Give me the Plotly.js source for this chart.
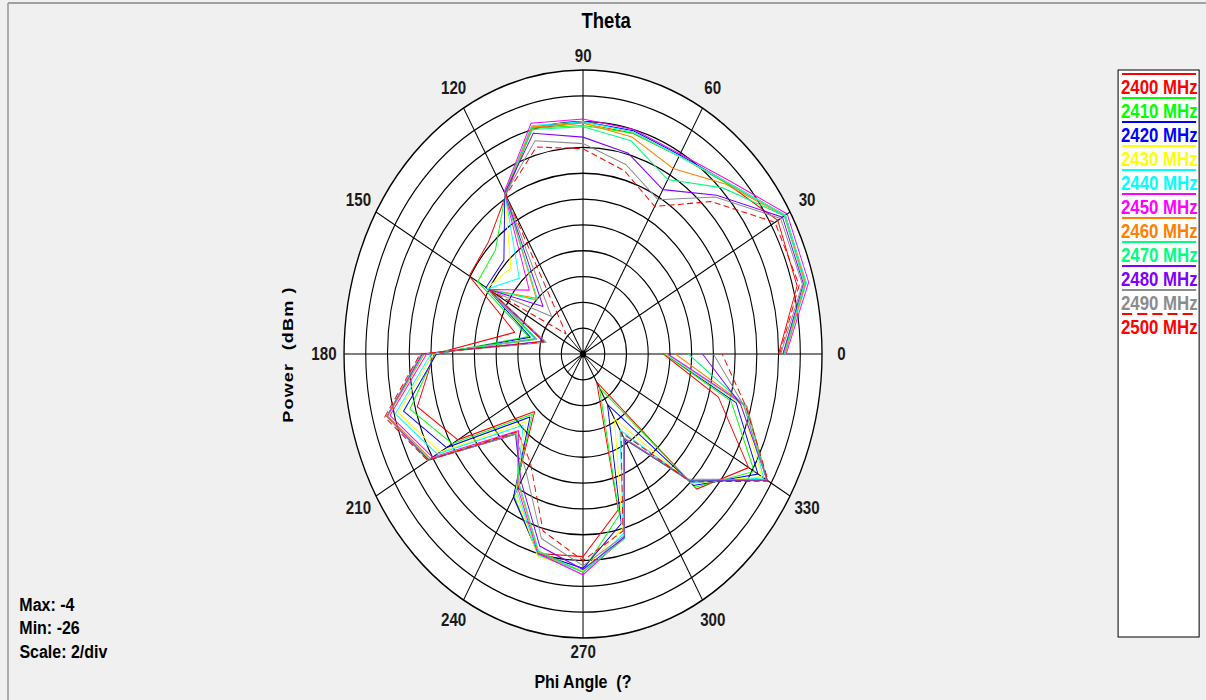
<!DOCTYPE html>
<html>
<head>
<meta charset="utf-8">
<script src="https://cdn.plot.ly/plotly-3.0.1.min.js"></script>
<style>
  html, body { margin: 0; padding: 0; background: #f0f0f0; overflow: hidden; }
  #wrap { width: 1206px; height: 700px; overflow: hidden; }
  /* the pattern window is stretched vertically: draw wide, then squeeze horizontally */
  #chart { width: 1433px; height: 700px; transform: scaleX(0.84155); transform-origin: 0 0; }
</style>
</head>
<body>
<div id="wrap"><div id="chart"></div></div>
<script>
// Phi angles of the turntable sweep (degrees), 0 .. 360 in 15 degree steps
const phi = [0, 15, 30, 45, 60, 75, 90, 105, 120, 135, 150, 165, 180,
             195, 210, 225, 240, 255, 270, 285, 300, 315, 330, 345, 360];

// Measured power (dBm) per frequency
const p2400 = [-8.0, -5.6, -5.3, -7.3, -8.3, -8.3, -8.1, -7.9, -11.8, -13.7, -13.9, -19.5, -12.3,
               -10.2, -12.7, -19.7, -13.2, -10.0, -10.3, -13.5, -23.5, -11.2, -8.4, -13.1, -18.6];
const p2410 = [-7.6, -4.8, -4.5, -7.3, -8.3, -8.3, -8.3, -7.9, -11.7, -14.6, -14.8, -20.8, -12.4,
               -9.5, -12.1, -19.4, -13.3, -9.9, -9.2, -13.1, -23.0, -11.4, -7.8, -11.9, -18.5];
const p2420 = [-7.5, -4.8, -4.5, -7.2, -8.2, -8.1, -8.0, -7.8, -11.6, -15.7, -15.7, -21.0, -12.5,
               -8.9, -11.5, -19.1, -13.2, -10.0, -9.4, -12.4, -21.5, -11.6, -7.4, -11.4, -18.4];
const p2430 = [-7.5, -4.8, -4.5, -7.2, -8.3, -8.2, -8.1, -7.8, -11.6, -16.6, -15.8, -21.3, -12.2,
               -8.4, -10.8, -18.6, -13.6, -9.8, -9.2, -12.0, -20.2, -11.8, -7.0, -10.9, -18.4];
const p2440 = [-7.4, -4.7, -4.5, -7.2, -8.3, -8.2, -8.0, -7.7, -11.6, -17.7, -15.9, -21.4, -12.0,
               -8.1, -10.5, -18.2, -13.8, -9.9, -9.1, -11.6, -19.2, -11.9, -6.8, -10.6, -18.3];
const p2450 = [-7.3, -4.5, -4.3, -7.0, -8.1, -8.0, -7.8, -7.5, -11.5, -19.0, -16.0, -21.5, -11.6,
               -7.6, -10.0, -17.6, -14.0, -10.0, -8.9, -11.3, -18.5, -12.0, -6.5, -10.4, -18.2];
const p2460 = [-7.4, -4.8, -4.6, -7.4, -9.4, -8.6, -8.1, -7.8, -11.6, -19.9, -16.0, -21.6, -11.4,
               -7.4, -9.8, -17.4, -14.2, -10.1, -9.1, -11.2, -18.4, -12.1, -6.4, -10.4, -17.5];
const p2470 = [-7.5, -4.9, -4.6, -7.8, -10.4, -8.9, -8.4, -8.0, -11.6, -20.1, -16.0, -21.6, -11.3,
               -7.3, -9.7, -17.3, -14.3, -10.2, -9.1, -11.2, -18.4, -12.1, -6.4, -10.5, -16.3];
const p2480 = [-7.6, -5.0, -4.8, -8.6, -11.3, -9.9, -9.2, -8.3, -11.6, -20.8, -16.0, -22.2, -11.2,
               -7.3, -9.6, -17.2, -14.6, -10.6, -9.3, -11.3, -18.4, -12.2, -6.4, -11.0, -15.0];
const p2490 = [-7.8, -5.1, -5.0, -8.8, -12.2, -10.8, -9.7, -8.9, -11.7, -21.9, -16.1, -22.5, -11.1,
               -7.3, -9.5, -17.2, -15.5, -11.2, -9.6, -11.4, -18.5, -12.3, -6.5, -10.7, -14.0];
const p2500 = [-7.9, -5.4, -5.6, -9.3, -12.8, -11.3, -10.1, -9.4, -11.8, -23.8, -16.0, -22.3, -11.0,
               -7.1, -9.5, -17.5, -16.3, -11.8, -10.0, -11.8, -19.0, -12.0, -6.3, -10.5, -13.2];

const seriesNames = ['2400 MHz', '2410 MHz', '2420 MHz', '2430 MHz', '2440 MHz', '2450 MHz',
                     '2460 MHz', '2470 MHz', '2480 MHz', '2490 MHz', '2500 MHz'];
const seriesValues = [p2400, p2410, p2420, p2430, p2440, p2450, p2460, p2470, p2480, p2490, p2500];

// Angular tick labels
const angleTicks = [0, 30, 60, 90, 120, 150, 180, 210, 240, 270, 300, 330];
const angleLabels = ['0', '30', '60', '90', '120', '150', '180', '210', '240', '270', '300', '330'];

// Radial scale
const rMax = -4, rMin = -26, rStep = 2;

const colors = ['#ff0000', '#00ff00', '#0000ff', '#ffff00', '#00ffff', '#ff00ff',
                '#ff8000', '#00ff80', '#8000ff', '#8c8c8c', '#ff0000'];
const dashes = ['solid', 'solid', 'solid', 'solid', 'solid', 'solid',
                'solid', 'solid', 'solid', 'solid', '7px,4px'];

const FONT = 'Liberation Sans, Arial, Helvetica, sans-serif';
const W = 1433, H = 700;
// polar disc geometry in layout pixels (before the horizontal squeeze)
const CX = 692.8, CY = 354, R = 284;

function txt(text, xpx, ypx, size, color, extra) {
  return Object.assign({
    text: text, x: xpx / W, y: 1 - ypx / H, xref: 'paper', yref: 'paper',
    xanchor: 'center', yanchor: 'middle', showarrow: false,
    font: { family: FONT, size: size, weight: 'bold', color: color || '#000' }
  }, extra || {});
}

const traces = [];

// short spokes inside the first ring
const innerTheta = [], innerR = [];
[45, 135, 225, 315].forEach(a => { innerTheta.push(a, a, null); innerR.push(rMin, rMin + rStep, null); });
traces.push({ type: 'scatterpolar', mode: 'lines', r: innerR, theta: innerTheta,
  line: { color: 'black', width: 1 }, hoverinfo: 'skip' });

seriesValues.forEach((vals, i) => traces.push({
  type: 'scatterpolar',
  mode: 'lines',
  r: vals,
  theta: phi,
  name: seriesNames[i],
  line: { color: colors[i], width: 1.1, dash: dashes[i] },
  hoverinfo: 'skip'
}));

// pole marker
traces.push({
  type: 'scatterpolar', mode: 'markers', r: [rMin], theta: [0],
  marker: { color: 'black', size: 7 }, hoverinfo: 'skip'
});

const annotations = [
  txt('Theta', 720, 20, 22),
  txt('Power&nbsp;&nbsp;(dBm )', 342, 355, 18, '#000', { textangle: -90 }),
  txt('Phi Angle&nbsp;&nbsp;(?', 692.8, 681, 19),
  txt('Max: ' + rMax, 21, 604, 19, '#000', { xanchor: 'left' }),
  txt('Min: ' + rMin, 21, 627, 19, '#000', { xanchor: 'left' }),
  txt('Scale: ' + rStep + '/div', 21, 651, 19, '#000', { xanchor: 'left' })
];

// angle labels around the rim
angleTicks.forEach((a, i) => {
  const rad = a * Math.PI / 180;
  const k = (a === 90 || a === 270) ? 1.05 : 1.083;
  annotations.push(txt(angleLabels[i], CX + k * R * Math.cos(rad), CY - k * R * Math.sin(rad), 18, '#1a1a1a'));
});

// window frame
const shapes = [
  { type: 'line', xref: 'paper', yref: 'paper', x0: 9.5 / W, x1: 1, y0: 1 - 3 / H, y1: 1 - 3 / H,
    line: { color: '#a0a0a0', width: 2 } },
  { type: 'line', xref: 'paper', yref: 'paper', x0: 9.5 / W, x1: 9.5 / W, y0: 1 - 3 / H, y1: 0,
    line: { color: '#a0a0a0', width: 2 } },
  // legend box
  { type: 'rect', xref: 'paper', yref: 'paper', x0: 1328.6 / W, x1: 1424.9 / W,
    y0: 1 - 637 / H, y1: 1 - 70 / H, fillcolor: 'white', line: { color: 'black', width: 1.2 } }
];

seriesNames.forEach((nm, i) => {
  const ly = 74 + 24 * i, ty = 87 + 24 * i;
  shapes.push({ type: 'line', xref: 'paper', yref: 'paper', x0: 1333.3 / W, x1: 1421.3 / W,
    y0: 1 - ly / H, y1: 1 - ly / H,
    line: { color: colors[i], width: 2, dash: dashes[i] === 'solid' ? 'solid' : '12px,6px' } });
  annotations.push(txt(nm, 1377.3, ty, 20, colors[i]));
});

const layout = {
  width: W, height: H,
  margin: { l: 0, r: 0, t: 0, b: 0 },
  paper_bgcolor: '#f0f0f0',
  showlegend: false,
  polar: {
    domain: { x: [(CX - R) / W, (CX + R) / W], y: [(H - CY - R) / H, (H - CY + R) / H] },
    bgcolor: 'white',
    radialaxis: {
      range: [rMin, rMax], tick0: rMin, dtick: rStep, tickmode: 'linear',
      showticklabels: false, ticks: '', showline: false,
      gridcolor: 'black', gridwidth: 1.3
    },
    angularaxis: {
      rotation: 0, direction: 'counterclockwise',
      tickmode: 'array', tickvals: angleTicks, ticktext: angleLabels, showticklabels: false,
      ticks: '', showline: true, linecolor: 'black', linewidth: 1.6,
      gridcolor: 'black', gridwidth: 1.2
    }
  },
  annotations: annotations,
  shapes: shapes
};

Plotly.newPlot('chart', traces, layout, { staticPlot: true, displayModeBar: false }).then(() => {
  // the axis caption is drawn letter-spaced
  document.querySelectorAll('.annotation-text').forEach(t => {
    if (t.textContent.indexOf('Power') === 0) t.style.letterSpacing = '1.2px';
  });
});
</script>
</body>
</html>
